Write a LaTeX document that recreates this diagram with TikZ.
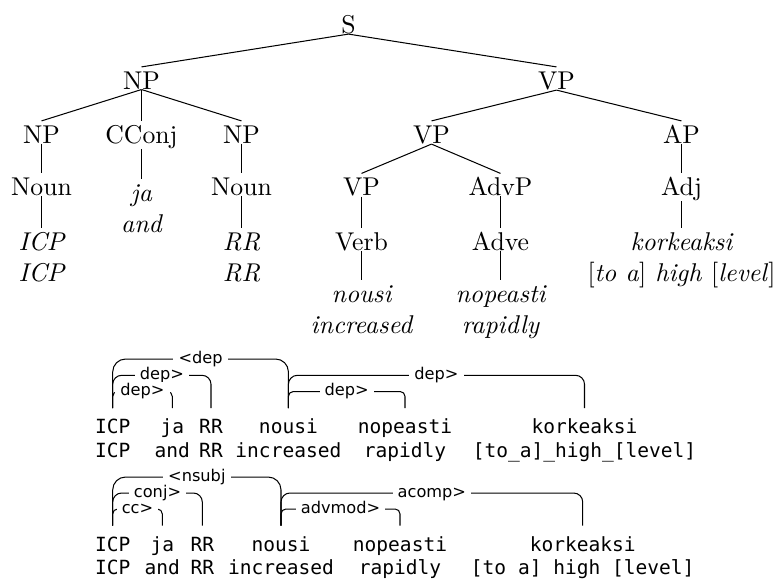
\documentclass[tikz,border=0pt]{standalone}
\usepackage{fontspec}
\newfontfamily\depmono{DejaVu Sans Mono}
\newfontfamily\depsans{DejaVu Sans}
\usetikzlibrary{calc}
% fixed first-line heights, so that edges meet every node at the same depth
\newcommand\tstrut{\rule{0pt}{8.4pt}}
\newcommand\wstrut{\rule{0pt}{6pt}}
\newcommand\usc{\char"5F\relax}
% dependency arc: from, to, height, corner radius, label name, label text
\newcommand\deparc[6]{%
  \draw[rounded corners=#4] (#1.north) -- ++(0,-#3) -| (#2.north);
  \node[lbl] (#5) at ($(#1.north)!0.5!(#2.north)+(0,-#3)$) {#6};
}
\begin{document}
\begin{tikzpicture}[x=0.389pt, y=-0.389pt,
  tn/.style={inner sep=0pt, anchor=north, align=center},
  leaf/.style={tn, font=\itshape},
  word/.style={inner sep=0pt, outer ysep=4.1pt, anchor=north, align=center,
    font=\depmono\fontsize{7.6}{9.14}\selectfont},
  lbl/.style={fill=white, inner xsep=2pt, inner ysep=0.5pt,
    text height=4.8pt, text depth=1.5pt,
    font=\depsans\fontsize{6.3}{7.5}\selectfont}]
\useasboundingbox (0,0) rectangle (777,578);

% ---------------- constituency tree ----------------
\node[tn] (S)     at (348.5, 10.9) {\tstrut S};
\node[tn] (NP)    at (141.5, 66.9) {\tstrut NP};
\node[tn] (VP)    at (556.5, 66.9) {\tstrut VP};
\node[tn] (NPa)   at (41.5, 120.9) {\tstrut NP};
\node[tn] (CC)    at (141.5, 120.9) {\tstrut CConj};
\node[tn] (NPb)   at (241.5, 120.9) {\tstrut NP};
\node[tn] (VPb)   at (431.5, 120.9) {\tstrut VP};
\node[tn] (AP)    at (681.5, 120.9) {\tstrut AP};
\node[tn] (Na)    at (41.5, 173.4) {\tstrut Noun};
\node[leaf] (ja)  at (141.5, 179.4) {\tstrut ja\\and};
\node[tn] (Nb)    at (241.5, 173.4) {\tstrut Noun};
\node[tn] (VPc)   at (361.5, 173.4) {\tstrut VP};
\node[tn] (AdvP)  at (500.5, 173.4) {\tstrut AdvP};
\node[tn] (Adj)   at (681.5, 173.4) {\tstrut Adj};
\node[leaf] (icp) at (41.5, 228.4) {\tstrut ICP\\ICP};
\node[leaf] (rr)  at (241.5, 228.4) {\tstrut RR\\RR};
\node[tn] (Verb)  at (361.5, 228) {\tstrut Verb};
\node[tn] (Adve)  at (500.5, 228) {\tstrut Adve};
\node[leaf] (kork) at (681.5, 228.4)
  {\tstrut korkeaksi\\\textup{[}to a\textup{]} high \textup{[}level\textup{]}};
\node[leaf] (nousi) at (361.5, 280.4) {\tstrut nousi\\increased};
\node[leaf] (nop)   at (500.5, 280.4) {\tstrut nopeasti\\rapidly};

\draw (S.south) -- (NP.north);
\draw (S.south) -- (VP.north);
\draw (NP.south) -- (NPa.north);
\draw (NP.south) -- (CC.north);
\draw (NP.south) -- (NPb.north);
\draw (VP.south) -- (VPb.north);
\draw (VP.south) -- (AP.north);
\draw (NPa.south) -- (Na.north);
\draw (CC.south) -- (ja.north);
\draw (NPb.south) -- (Nb.north);
\draw (VPb.south) -- (VPc.north);
\draw (VPb.south) -- (AdvP.north);
\draw (AP.south) -- (Adj.north);
\draw (Na.south) -- (icp.north);
\draw (Nb.south) -- (rr.north);
\draw (VPc.south) -- (Verb.north);
\draw (AdvP.south) -- (Adve.north);
\draw (Adj.south) -- (kork.north);
\draw (Verb.south) -- (nousi.north);
\draw (Adve.south) -- (nop.north);

% ---------------- dependency graph, generic labels ----------------
\node[word] (d1icp)   at (112.7, 408) {\wstrut ICP\\ICP};
\node[word] (d1ja)    at (172.3, 408) {\wstrut ja\\and};
\node[word] (d1rr)    at (211, 408)   {\wstrut RR\\RR};
\node[word] (d1nousi) at (288.4, 408) {\wstrut nousi\\increased};
\node[word] (d1nop)   at (405, 408)   {\wstrut nopeasti\\rapidly};
\node[word] (d1kork)  at (584.5, 408)
  {\wstrut korkeaksi\\{[}to\usc a{]}\usc high\usc {[}level{]}};

\deparc{d1icp}{d1nousi}{49}{5pt}{l1a}{<dep}
\deparc{d1icp}{d1rr}{32.7}{3.5pt}{l1b}{dep>}
\deparc{d1icp}{d1ja}{16.5}{1.9pt}{l1c}{dep>}
\deparc{d1nousi}{d1nop}{16.5}{1.9pt}{l1d}{dep>}
\deparc{d1nousi}{d1kork}{32.7}{3.5pt}{l1e}{dep>}

% ---------------- dependency graph, typed labels ----------------
\node[word] (d2icp)   at (112.7, 525.5) {\wstrut ICP\\ICP};
\node[word] (d2ja)    at (162.3, 525.5) {\wstrut ja\\and};
\node[word] (d2rr)    at (202.3, 525.5) {\wstrut RR\\RR};
\node[word] (d2nousi) at (281, 525.5)   {\wstrut nousi\\increased};
\node[word] (d2nop)   at (400, 525.5)   {\wstrut nopeasti\\rapidly};
\node[word] (d2kork)  at (582.7, 525.5)
  {\wstrut korkeaksi\\{[}to a{]} high {[}level{]}};

\deparc{d2icp}{d2nousi}{48.5}{5pt}{l2a}{<nsubj}
\deparc{d2icp}{d2rr}{32.5}{3.5pt}{l2b}{conj>}
\deparc{d2icp}{d2ja}{16.5}{1.9pt}{l2c}{cc>}
\deparc{d2nousi}{d2nop}{16.5}{1.9pt}{l2d}{advmod>}
\deparc{d2nousi}{d2kork}{32.5}{3.5pt}{l2e}{acomp>}
\end{tikzpicture}
\end{document}
